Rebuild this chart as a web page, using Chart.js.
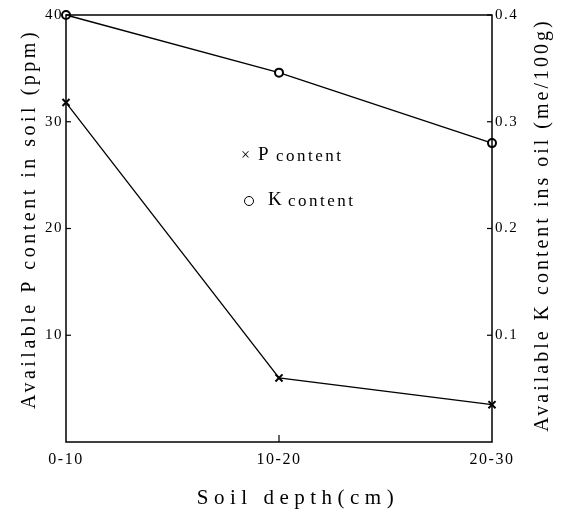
<!DOCTYPE html>
<html lang="en">
<head>
<meta charset="UTF-8">
<title>Soil depth vs P and K content</title>
<script src="https://cdn.jsdelivr.net/npm/chart.js"></script>
<style>
  html, body { margin: 0; padding: 0; background: #fff; }
  #wrap { width: 562px; height: 515px; }
</style>
</head>
<body>
<div id="wrap"><canvas id="soilChart"></canvas></div>
<script>
// data
const depths = ['0-10', '10-20', '20-30'];
const pContent = [31.8, 6, 3.5];      // ppm, left axis
const kContent = [0.4, 0.346, 0.28];  // me/100g, right axis
const pTicks = [10, 20, 30, 40];
const kTicks = [0.1, 0.2, 0.3, 0.4];

const serif = '"Liberation Serif", "DejaVu Serif", serif';

// spaced-out text, like the typeset original
function spacedText(ctx, text, x, y, font, spacing, rot) {
  ctx.save();
  ctx.translate(x, y);
  if (rot) ctx.rotate(rot);
  ctx.font = font;
  ctx.letterSpacing = spacing + 'px';
  ctx.textAlign = 'center';
  ctx.textBaseline = 'middle';
  ctx.fillText(text, 0, 0);
  ctx.restore();
}

// closed frame, short inward ticks, axis titles and the legend inside the plot
const framePlugin = {
  id: 'frame',
  beforeDraw(chart) {
    // tick labels in the original are set a little loose
    chart.ctx.letterSpacing = '1.5px';
  },
  afterDraw(chart) {
    const ctx = chart.ctx;
    ctx.letterSpacing = '0px';
    const a = chart.chartArea;
    ctx.save();
    ctx.strokeStyle = '#000';
    ctx.fillStyle = '#000';
    ctx.lineWidth = 1.5;
    ctx.strokeRect(a.left, a.top, a.right - a.left, a.bottom - a.top);
    ctx.lineWidth = 1.2;
    const y = chart.scales.y, y1 = chart.scales.y1, x = chart.scales.x;
    pTicks.forEach(v => {
      const py = y.getPixelForValue(v);
      ctx.beginPath(); ctx.moveTo(a.left, py); ctx.lineTo(a.left + 5, py); ctx.stroke();
    });
    kTicks.forEach(v => {
      const py = y1.getPixelForValue(v);
      ctx.beginPath(); ctx.moveTo(a.right - 5, py); ctx.lineTo(a.right, py); ctx.stroke();
    });
    const px = x.getPixelForValue(1);
    ctx.beginPath(); ctx.moveTo(px, a.bottom); ctx.lineTo(px, a.bottom - 7); ctx.stroke();

    // axis titles
    spacedText(ctx, 'Available P content in soil (ppm)', 30, 219, '20px ' + serif, 3.5, -Math.PI / 2);
    spacedText(ctx, 'Available K content ins oil (me/100g)', 543, 225, '20px ' + serif, 3, -Math.PI / 2);
    spacedText(ctx, 'Soil depth(cm)', 298, 498, '21px ' + serif, 5.5, 0);

    // legend
    ctx.textBaseline = 'middle';
    ctx.font = '16px ' + serif;
    ctx.fillText('\u00d7', 241, 156);
    ctx.font = '19px ' + serif;
    ctx.fillText('P', 258, 155);
    ctx.font = '17px ' + serif;
    ctx.letterSpacing = '2.5px';
    ctx.fillText('content', 276, 157);
    ctx.letterSpacing = '0px';
    ctx.beginPath(); ctx.arc(249, 201, 4.5, 0, Math.PI * 2); ctx.lineWidth = 1; ctx.stroke();
    ctx.font = '19px ' + serif;
    ctx.fillText('K', 268, 200);
    ctx.font = '17px ' + serif;
    ctx.letterSpacing = '2.5px';
    ctx.fillText('content', 288, 202);
    ctx.restore();
  }
};

const ctx = document.getElementById('soilChart').getContext('2d');
new Chart(ctx, {
  type: 'line',
  data: {
    labels: depths,
    datasets: [
      {
        label: 'P content',
        data: pContent,
        yAxisID: 'y',
        borderColor: '#000',
        borderWidth: 1.3,
        pointStyle: 'crossRot',
        pointRadius: 5,
        pointBorderWidth: 2,
        pointBorderColor: '#000',
        tension: 0,
        clip: false
      },
      {
        label: 'K content',
        data: kContent,
        yAxisID: 'y1',
        borderColor: '#000',
        borderWidth: 1.3,
        pointStyle: 'circle',
        pointRadius: 4,
        pointBorderWidth: 2,
        pointBorderColor: '#000',
        pointBackgroundColor: '#fff',
        tension: 0,
        clip: false
      }
    ]
  },
  options: {
    responsive: true,
    maintainAspectRatio: false,
    animation: false,
    layout: { padding: { top: 15, left: 0, right: 0, bottom: 0 } },
    plugins: { legend: { display: false }, tooltip: { enabled: false } },
    scales: {
      x: {
        offset: false,
        grid: { display: false, drawTicks: false },
        border: { display: false },
        ticks: { color: '#000', padding: 8, maxRotation: 0, font: { family: serif, size: 16 } },
        afterFit(s) { s.height = 73; }
      },
      y: {
        position: 'left',
        min: 0, max: 40,
        afterBuildTicks(s) { s.ticks = pTicks.map(v => ({ value: v })); },
        grid: { display: false, drawTicks: false },
        border: { display: false },
        ticks: { color: '#000', padding: 3, font: { family: serif, size: 15 } },
        afterFit(s) { s.width = 66; }
      },
      y1: {
        position: 'right',
        min: 0, max: 0.4,
        afterBuildTicks(s) { s.ticks = kTicks.map(v => ({ value: v })); },
        grid: { display: false, drawTicks: false },
        border: { display: false },
        ticks: { color: '#000', padding: 3, font: { family: serif, size: 15 }, callback: v => v.toFixed(1) },
        afterFit(s) { s.width = 70; }
      }
    }
  },
  plugins: [framePlugin]
});
</script>
</body>
</html>
